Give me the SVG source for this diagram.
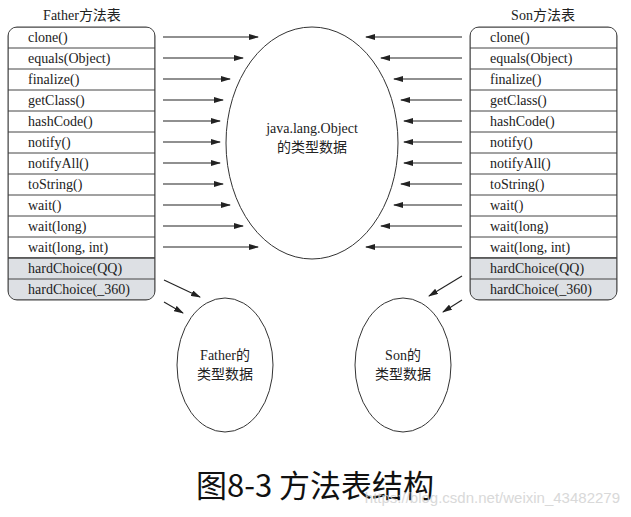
<svg xmlns="http://www.w3.org/2000/svg" width="631" height="517" viewBox="0 0 631 517">
<style>
text{font-family:"Liberation Serif","Noto Sans CJK SC",serif;font-size:14px;fill:#222}
.row{fill:#fff;stroke:#444;stroke-width:1}
.g{fill:#dde0e4}
.e{fill:#fff;stroke:#333;stroke-width:1}
.a{stroke:#222;stroke-width:1.1;fill:none;marker-end:url(#ah)}
</style>
<defs>
<marker id="ah" markerWidth="10" markerHeight="6" refX="9" refY="3" orient="auto" markerUnits="userSpaceOnUse"><path d="M0,0L10,3L0,6z" fill="#222"/></marker>
<clipPath id="cl"><rect x="8" y="27" width="147" height="273" rx="9"/></clipPath>
<clipPath id="cr"><rect x="470" y="27" width="147" height="273" rx="9"/></clipPath>
</defs>
<rect width="631" height="517" fill="#fff"/>
<g id="father-table">
<text x="82" y="20" text-anchor="middle">Father方法表</text>
<g clip-path="url(#cl)">
<rect class="row" x="8" y="27" width="147" height="231"/>
<rect class="row g" x="8" y="258" width="147" height="42"/>
<path d="M8,48H155M8,69H155M8,90H155M8,111H155M8,132H155M8,153H155M8,174H155M8,195H155M8,216H155M8,237H155M8,258H155M8,279H155" stroke="#444"/>
</g>
<rect x="8" y="27" width="147" height="273" rx="9" fill="none" stroke="#444"/>
<g>
<text x="28" y="42">clone()</text><text x="28" y="63">equals(Object)</text><text x="28" y="84">finalize()</text><text x="28" y="105">getClass()</text><text x="28" y="126">hashCode()</text><text x="28" y="147">notify()</text><text x="28" y="168">notifyAll()</text><text x="28" y="189">toString()</text><text x="28" y="210">wait()</text><text x="28" y="231">wait(long)</text><text x="28" y="252">wait(long, int)</text><text x="28" y="273">hardChoice(QQ)</text><text x="28" y="294">hardChoice(_360)</text>
</g>
</g>
<g id="son-table">
<text x="543" y="20" text-anchor="middle">Son方法表</text>
<g clip-path="url(#cr)">
<rect class="row" x="470" y="27" width="147" height="231"/>
<rect class="row g" x="470" y="258" width="147" height="42"/>
<path d="M470,48H617M470,69H617M470,90H617M470,111H617M470,132H617M470,153H617M470,174H617M470,195H617M470,216H617M470,237H617M470,258H617M470,279H617" stroke="#444"/>
</g>
<rect x="470" y="27" width="147" height="273" rx="9" fill="none" stroke="#444"/>
<g>
<text x="490" y="42">clone()</text><text x="490" y="63">equals(Object)</text><text x="490" y="84">finalize()</text><text x="490" y="105">getClass()</text><text x="490" y="126">hashCode()</text><text x="490" y="147">notify()</text><text x="490" y="168">notifyAll()</text><text x="490" y="189">toString()</text><text x="490" y="210">wait()</text><text x="490" y="231">wait(long)</text><text x="490" y="252">wait(long, int)</text><text x="490" y="273">hardChoice(QQ)</text><text x="490" y="294">hardChoice(_360)</text>
</g>
</g>
<g id="object-node">
<ellipse class="e" cx="312" cy="143" rx="86" ry="116"/>
<text x="312" y="133" text-anchor="middle">java.lang.Object</text>
<text x="312" y="152" text-anchor="middle">的类型数据</text>
</g>
<g id="father-node">
<ellipse class="e" cx="225" cy="365" rx="48" ry="67"/>
<text x="225" y="360" text-anchor="middle">Father的</text>
<text x="225" y="379" text-anchor="middle">类型数据</text>
</g>
<g id="son-node">
<ellipse class="e" cx="403" cy="365" rx="48" ry="67"/>
<text x="403" y="360" text-anchor="middle">Son的</text>
<text x="403" y="379" text-anchor="middle">类型数据</text>
</g>
<g id="connectors">
<path class="a" d="M163,37H258"/><path class="a" d="M163,58H243"/><path class="a" d="M163,79H230"/><path class="a" d="M163,100H223"/><path class="a" d="M163,121H220"/><path class="a" d="M163,142H220"/><path class="a" d="M163,163H220"/><path class="a" d="M163,184H223"/><path class="a" d="M163,205H230"/><path class="a" d="M163,226H243"/><path class="a" d="M163,247H258"/>
<path class="a" d="M462,37H366"/><path class="a" d="M462,58H381"/><path class="a" d="M462,79H394"/><path class="a" d="M462,100H401"/><path class="a" d="M462,121H404"/><path class="a" d="M462,142H404"/><path class="a" d="M462,163H404"/><path class="a" d="M462,184H401"/><path class="a" d="M462,205H394"/><path class="a" d="M462,226H381"/><path class="a" d="M462,247H366"/>
<path class="a" d="M164,280L200,297"/><path class="a" d="M164,302L183,313"/>
<path class="a" d="M462,276L429,296"/><path class="a" d="M462,300L443,312"/>
</g>
<text x="315" y="497" text-anchor="middle" style="font-family:'Noto Sans CJK SC','Noto Sans',sans-serif;font-size:31px;fill:#111">图8-3 方法表结构</text>
<text x="620" y="503" text-anchor="end" style="font-family:'Liberation Sans',sans-serif;font-size:15px;fill:#d0d0d0;opacity:0.8">https://blog.csdn.net/weixin_43482279</text>
</svg>
